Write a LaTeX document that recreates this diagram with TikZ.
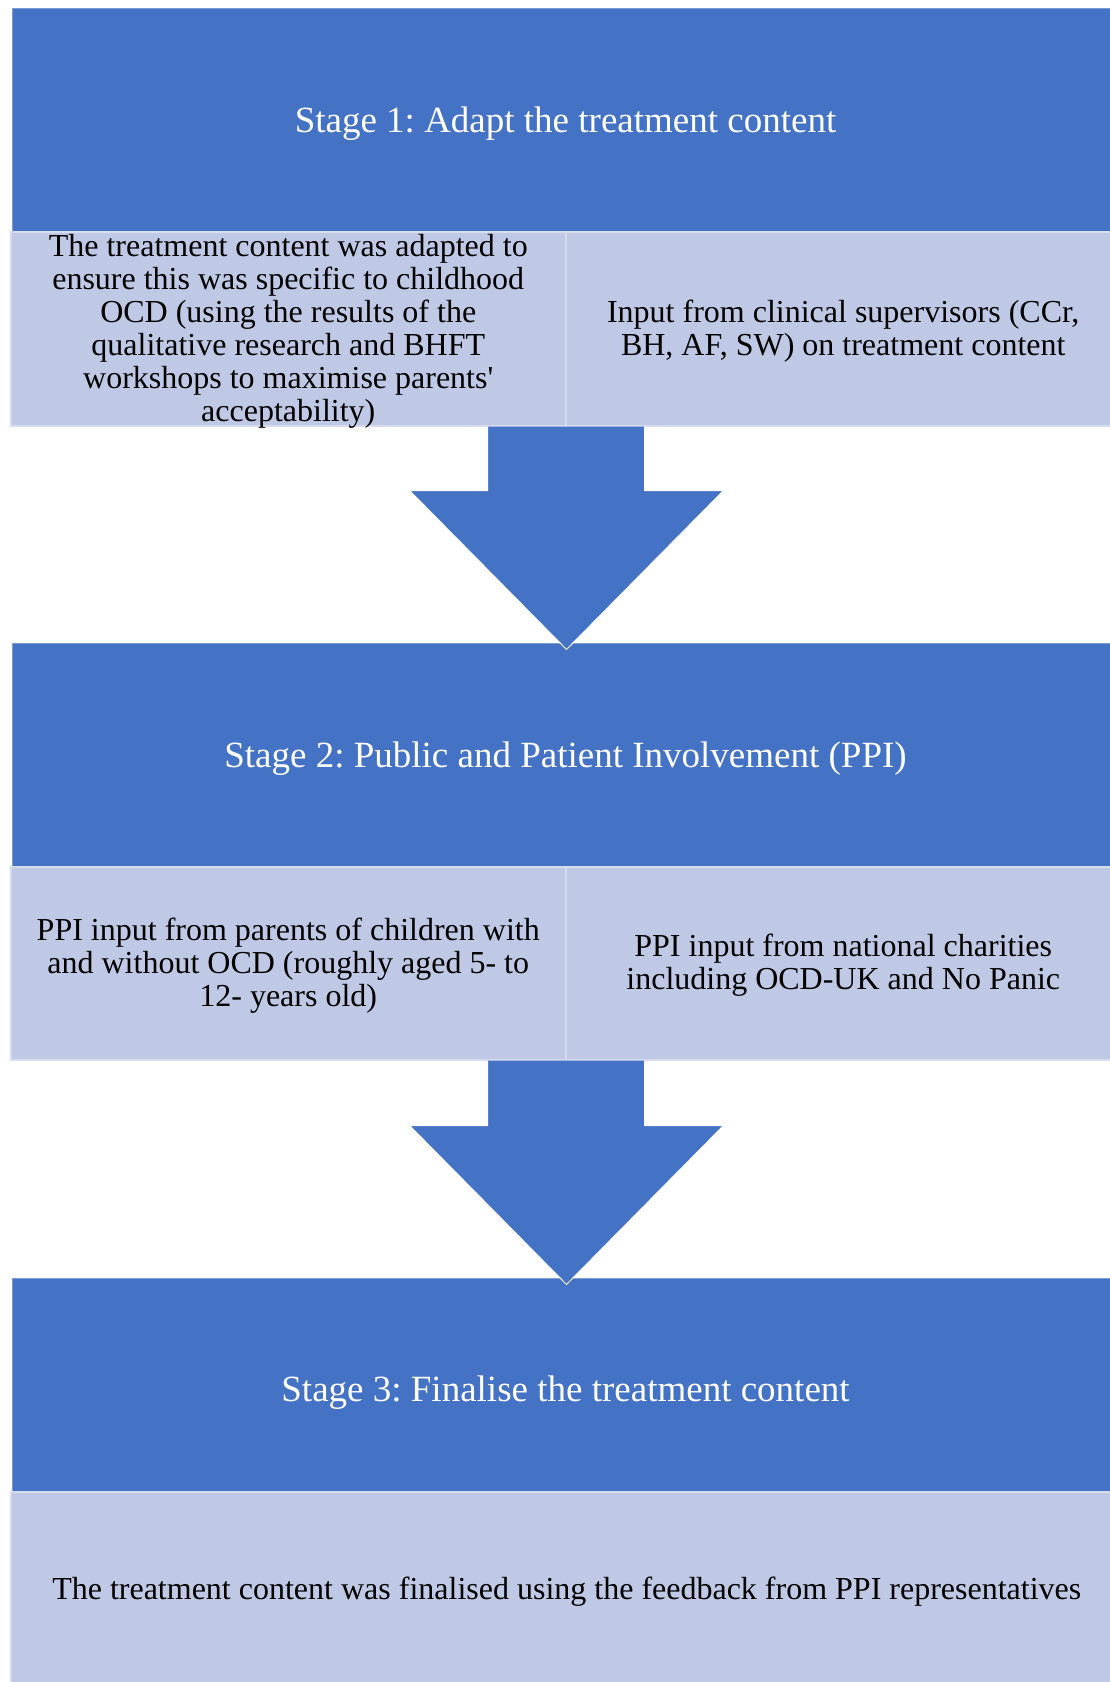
\documentclass[tikz,border=0pt]{standalone}
\usepackage{fontspec}
\setmainfont{Liberation Serif}
\newfontfamily\plainaposfont{Liberation Serif}[Ligatures=TeXOff]
\usetikzlibrary{calc}
\definecolor{stageblue}{RGB}{68,114,196}
\definecolor{lightblue}{RGB}{191,201,229}
\definecolor{edgelight}{RGB}{214,220,238}
\newcommand{\apos}{{\plainaposfont'}}
\begin{document}
\frenchspacing
\begin{tikzpicture}[x=1pt,y=-1pt,
  stagebox/.style={fill=stageblue, draw=stageblue!70!white, line width=1pt, anchor=north west,
    inner sep=0pt},
  infobox/.style={fill=lightblue, draw=edgelight, line width=1.5pt, anchor=north west,
    inner sep=0pt},
  titletext/.style={inner sep=0pt, text=white, font=\fontsize{37}{42}\selectfont, align=center},
  bodytext/.style={inner sep=0pt, text=black, font=\fontsize{32}{33}\selectfont, align=center},
  arrowfill/.style={fill=stageblue},
  arrowedge/.style={draw=white, line width=1pt, line join=miter}]
\useasboundingbox (0,0) rectangle (1110,1682);
\fill[white] (0,0) rectangle (1110,1682);

% Stage 1
\node[stagebox, minimum width=1106pt, minimum height=223pt] (s1) at (12,8) {};
\node[titletext] (t1) at ($(s1.center)+(0,3.2)$) {Stage 1: Adapt the treatment content};
\node[infobox, minimum width=555pt, minimum height=194pt] (r1L) at (10,231) {};
\node[bodytext] (b1L) at ($(r1L.center)+(0,2.5)$)
  {The treatment content was adapted to\\ensure this was specific to childhood\\OCD (using the results of the\\qualitative research and BHFT\\workshops to maximise parents\apos\\acceptability)};
\node[infobox, minimum width=555pt, minimum height=194pt] (r1R) at (565,231) {};
\node[bodytext] (b1R) at ($(r1R.center)+(0,2.5)$)
  {Input from clinical supervisors (CCr,\\BH, AF, SW) on treatment content};

% Stage 2
\node[stagebox, minimum width=1106pt, minimum height=223pt] (s2) at (12,643) {};
\node[titletext] (t2) at ($(s2.center)+(0,3.2)$) {Stage 2: Public and Patient Involvement (PPI)};
\node[infobox, minimum width=555pt, minimum height=193pt] (r2L) at (10,866) {};
\node[bodytext] (b2L) at ($(r2L.center)+(0,2.2)$)
  {PPI input from parents of children with\\and without OCD (roughly aged 5- to\\12- years old)};
\node[infobox, minimum width=555pt, minimum height=193pt] (r2R) at (565,866) {};
\node[bodytext] (b2R) at ($(r2R.center)+(0,2.2)$)
  {PPI input from national charities\\including OCD-UK and No Panic};

% Stage 3
\node[stagebox, minimum width=1106pt, minimum height=213pt] (s3) at (12,1278) {};
\node[titletext] (t3) at ($(s3.center)+(0,8)$) {Stage 3: Finalise the treatment content};
\node[infobox, minimum width=1112pt, minimum height=194pt] (r3) at (10,1491) {};
\node[bodytext] (b3) at ($(r3.center)+(0,3.2)$)
  {The treatment content was finalised using the feedback from PPI representatives};

% Arrow 1
\coordinate (a1) at (r1L.south east);
\fill[arrowfill] ($(a1)+(-79,0)$) -- ++(157,0) -- ++(0,64) -- ++(79,0)
  -- ($(a1)+(0,223)$) -- ($(a1)+(-157,64)$) -- ($(a1)+(-79,64)$) -- cycle;
\draw[arrowedge] ($(a1)+(78,0)$) -- ++(0,64) -- ++(79,0)
  -- ($(a1)+(0,223)$) -- ($(a1)+(-157,64)$) -- ($(a1)+(-79,64)$) -- ($(a1)+(-79,0)$);

% Arrow 2
\coordinate (a2) at (r2L.south east);
\fill[arrowfill] ($(a2)+(-79,0)$) -- ++(157,0) -- ++(0,65) -- ++(79,0)
  -- ($(a2)+(0,224)$) -- ($(a2)+(-157,65)$) -- ($(a2)+(-79,65)$) -- cycle;
\draw[arrowedge] ($(a2)+(78,0)$) -- ++(0,65) -- ++(79,0)
  -- ($(a2)+(0,224)$) -- ($(a2)+(-157,65)$) -- ($(a2)+(-79,65)$) -- ($(a2)+(-79,0)$);
\end{tikzpicture}
\end{document}
